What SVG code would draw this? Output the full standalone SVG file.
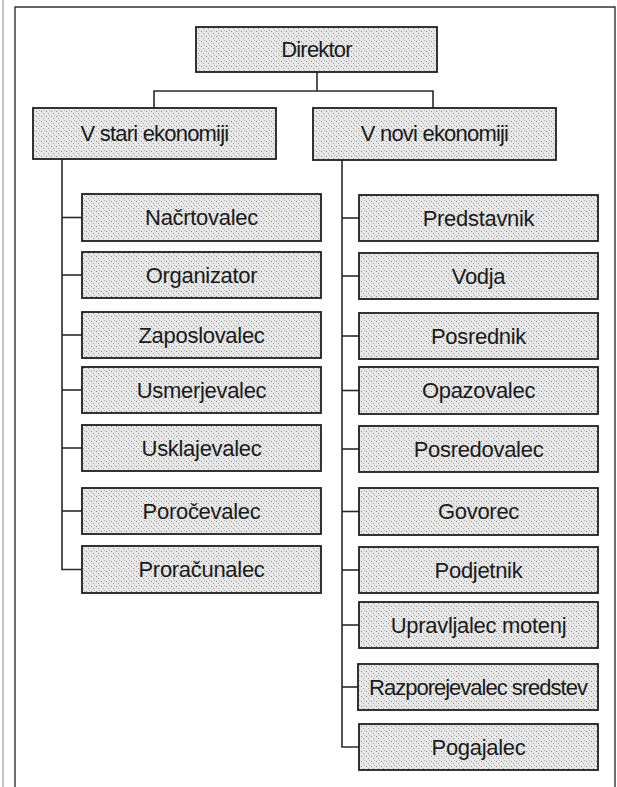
<svg xmlns="http://www.w3.org/2000/svg" width="617" height="787" viewBox="0 0 617 787">
<defs>
<pattern id="stip" width="5" height="5" patternUnits="userSpaceOnUse">
<rect width="5" height="5" fill="#e8e8e8"/>
<rect x="1" y="1" width="1" height="1" fill="#8a8a8a"/>
<rect x="3" y="3" width="1" height="1" fill="#a0a0a0"/>
<rect x="4" y="0" width="1" height="1" fill="#b5b5b5"/>
</pattern>
</defs>
<style>
.box{fill:url(#stip);stroke:#1e1e1e;stroke-width:1.8}
.lbl{font-family:"Liberation Sans",Arial,sans-serif;font-size:22px;fill:#1a1a1a;text-anchor:middle;letter-spacing:-0.3px}
.hdr{letter-spacing:-0.8px}
.tight{letter-spacing:-1px}
.con{fill:none;stroke:#2a2a2a;stroke-width:1.6}
.frame{fill:none;stroke:#333;stroke-width:1.4}
</style>
<rect width="617" height="787" fill="#ffffff"/>
<g id="frame">
<line x1="3" y1="0" x2="3" y2="787" stroke="#9a9a9a" stroke-width="1.2"/>
<polyline class="frame" points="15,787 15,7 615,7 615,787"/>
</g>
<g id="connectors">
<line class="con" x1="317" y1="72" x2="317" y2="91"/>
<polyline class="con" points="154,108 154,91 433,91 433,108"/>
<polyline class="con" points="62,159 62,569.5 82,569.5"/>
<line class="con" x1="62" y1="217.5" x2="82" y2="217.5"/>
<line class="con" x1="62" y1="275" x2="82" y2="275"/>
<line class="con" x1="62" y1="335" x2="82" y2="335"/>
<line class="con" x1="62" y1="390" x2="82" y2="390"/>
<line class="con" x1="62" y1="448" x2="82" y2="448"/>
<line class="con" x1="62" y1="511" x2="82" y2="511"/>
<polyline class="con" points="342,160 342,747 359,747"/>
<line class="con" x1="342" y1="218" x2="359" y2="218"/>
<line class="con" x1="342" y1="276" x2="359" y2="276"/>
<line class="con" x1="342" y1="336" x2="359" y2="336"/>
<line class="con" x1="342" y1="390.5" x2="359" y2="390.5"/>
<line class="con" x1="342" y1="449" x2="359" y2="449"/>
<line class="con" x1="342" y1="511.5" x2="359" y2="511.5"/>
<line class="con" x1="342" y1="570" x2="359" y2="570"/>
<line class="con" x1="342" y1="625" x2="359" y2="625"/>
<line class="con" x1="342" y1="687" x2="359" y2="687"/>
</g>
<g id="direktor"><rect class="box" x="196" y="27" width="241" height="45"/><text class="lbl hdr" x="316.5" y="57">Direktor</text></g>
<g id="stari"><rect class="box" x="33" y="108" width="243" height="51"/><text class="lbl hdr" x="154.5" y="140.5">V stari ekonomiji</text></g>
<g id="novi"><rect class="box" x="313" y="108" width="243" height="52"/><text class="lbl hdr" x="434.5" y="141">V novi ekonomiji</text></g>
<g id="l1"><rect class="box" x="82" y="194" width="239" height="47"/><text class="lbl" x="201.5" y="225">Načrtovalec</text></g>
<g id="l2"><rect class="box" x="82" y="252" width="239" height="46"/><text class="lbl" x="201.5" y="282.5">Organizator</text></g>
<g id="l3"><rect class="box" x="82" y="312" width="239" height="46"/><text class="lbl" x="201.5" y="342.5">Zaposlovalec</text></g>
<g id="l4"><rect class="box" x="82" y="367" width="239" height="46"/><text class="lbl" x="201.5" y="397.5">Usmerjevalec</text></g>
<g id="l5"><rect class="box" x="82" y="425" width="239" height="46"/><text class="lbl" x="201.5" y="455.5">Usklajevalec</text></g>
<g id="l6"><rect class="box" x="82" y="488" width="239" height="46"/><text class="lbl" x="201.5" y="518.5">Poročevalec</text></g>
<g id="l7"><rect class="box" x="82" y="546" width="239" height="47"/><text class="lbl" x="201.5" y="577">Proračunalec</text></g>
<g id="r1"><rect class="box" x="359" y="195" width="239" height="46"/><text class="lbl" x="478.5" y="225.5">Predstavnik</text></g>
<g id="r2"><rect class="box" x="359" y="253" width="239" height="46"/><text class="lbl" x="478.5" y="283.5">Vodja</text></g>
<g id="r3"><rect class="box" x="359" y="313" width="239" height="46"/><text class="lbl" x="478.5" y="343.5">Posrednik</text></g>
<g id="r4"><rect class="box" x="359" y="367" width="239" height="47"/><text class="lbl" x="478.5" y="398">Opazovalec</text></g>
<g id="r5"><rect class="box" x="359" y="426" width="239" height="46"/><text class="lbl" x="478.5" y="456.5">Posredovalec</text></g>
<g id="r6"><rect class="box" x="359" y="488" width="239" height="47"/><text class="lbl" x="478.5" y="519">Govorec</text></g>
<g id="r7"><rect class="box" x="359" y="547" width="239" height="46"/><text class="lbl" x="478.5" y="577.5">Podjetnik</text></g>
<g id="r8"><rect class="box" x="359" y="602" width="239" height="46"/><text class="lbl" x="478.5" y="632.5">Upravljalec motenj</text></g>
<g id="r9"><rect class="box" x="358" y="664" width="240" height="46"/><text class="lbl tight" x="478" y="694.5">Razporejevalec sredstev</text></g>
<g id="r10"><rect class="box" x="359" y="724" width="239" height="46"/><text class="lbl" x="478.5" y="754.5">Pogajalec</text></g>
</svg>
